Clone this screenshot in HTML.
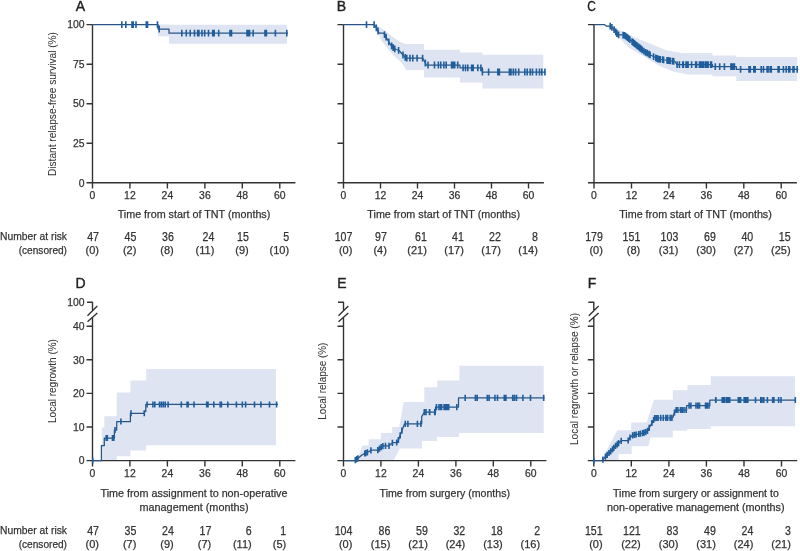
<!DOCTYPE html>
<html><head><meta charset="utf-8"><style>
html,body{margin:0;padding:0;background:#fff;width:800px;height:551px;overflow:hidden;position:relative}
</style></head><body>
<svg width="800" height="551" viewBox="0 0 800 551" style="position:absolute;left:0;top:0;will-change:transform">
<g font-family='"Liberation Sans", sans-serif' stroke-linejoin="round">
<path d="M158.0,24.5 L169.0,24.5 L169.0,24.8 L287.0,24.8 L287.0,43.8 L169.0,43.8 L169.0,36.3 L158.0,36.3Z" fill="#dee4f1" stroke="none"/>
<path d="M374.1,24.6 L378.0,26.0 L384.0,30.0 L393.0,37.0 L400.0,42.0 L405.7,44.1 L424.0,44.1 L424.0,49.8 L460.0,49.8 L460.0,52.4 L482.4,52.4 L482.4,54.7 L543.3,54.7 L543.3,88.6 L482.4,88.6 L482.4,82.4 L460.0,82.4 L460.0,77.6 L424.0,77.6 L424.0,70.0 L406.0,70.0 L402.0,63.0 L394.0,56.0 L388.0,49.0 L381.0,40.0 L378.0,33.0 L374.1,24.6Z" fill="#dee4f1" stroke="none"/>
<path d="M604.6,24.6 L610.0,25.8 L618.0,29.2 L621.0,30.4 L636.3,38.1 L651.7,44.3 L667.1,50.5 L676.4,52.0 L682.5,53.1 L712.4,53.1 L712.4,55.5 L736.3,55.5 L736.3,57.0 L797.2,57.0 L797.2,80.9 L736.3,80.9 L736.3,76.3 L712.4,76.3 L712.4,74.7 L688.7,74.4 L674.8,72.1 L659.4,65.9 L644.0,56.6 L628.6,47.4 L618.0,36.6 L612.0,30.0 L604.6,24.6Z" fill="#dee4f1" stroke="none"/>
<path d="M101.8,460.6 L101.8,427.6 L104.3,427.6 L104.3,416.2 L116.7,416.2 L116.7,392.4 L130.4,392.4 L130.4,380.6 L146.2,380.6 L146.2,369.0 L276.0,369.0 L276.0,445.3 L146.2,445.3 L146.2,450.5 L130.4,450.5 L130.4,456.2 L116.7,456.2 L116.7,460.6 L101.8,460.6Z" fill="#dee4f1" stroke="none"/>
<path d="M355.0,460.6 L358.1,456.7 L362.5,445.4 L368.6,445.4 L368.6,439.2 L380.9,439.2 L380.9,433.1 L392.2,433.1 L392.2,427.0 L399.2,427.0 L403.6,401.9 L424.3,401.9 L424.3,387.2 L437.2,387.2 L437.2,380.4 L459.4,380.4 L459.4,365.8 L543.7,365.8 L543.7,433.0 L459.0,433.0 L459.0,437.0 L437.0,437.0 L437.0,441.0 L422.0,441.0 L422.0,448.5 L400.0,448.5 L393.5,460.6 L355.0,460.6Z" fill="#dee4f1" stroke="none"/>
<path d="M601.9,460.6 L605.3,452.8 L617.4,430.3 L631.2,430.3 L631.2,422.6 L646.7,422.6 L654.0,399.7 L672.8,399.7 L672.8,390.2 L687.4,390.2 L687.4,385.0 L710.7,385.0 L710.7,376.3 L795.0,376.3 L795.0,426.3 L710.7,426.3 L710.7,429.0 L687.4,429.0 L687.4,430.7 L672.8,430.7 L672.8,437.6 L650.5,437.6 L648.4,446.2 L631.7,446.2 L631.7,454.1 L618.6,454.1 L618.6,460.6 L601.9,460.6Z" fill="#dee4f1" stroke="none"/>
<path d="M92.5,183.45000000000002V24.6M86.5,182.8H92.5M86.5,143.2H92.5M86.5,103.7H92.5M86.5,64.2H92.5M86.5,24.6H92.5M86.5,182.8H295.4M92.5,182.8V188.60000000000002M129.9,182.8V188.60000000000002M167.4,182.8V188.60000000000002M204.9,182.8V188.60000000000002M242.3,182.8V188.60000000000002M279.8,182.8V188.60000000000002" stroke="#333" stroke-width="1.4" fill="none"/>
<text x="84.5" y="186.5" font-size="10.4" text-anchor="end" fill="#333" stroke="#333" stroke-width="0.25" font-weight="normal">0</text>
<text x="84.5" y="146.9" font-size="10.4" text-anchor="end" fill="#333" stroke="#333" stroke-width="0.25" font-weight="normal">25</text>
<text x="84.5" y="107.4" font-size="10.4" text-anchor="end" fill="#333" stroke="#333" stroke-width="0.25" font-weight="normal">50</text>
<text x="84.5" y="67.9" font-size="10.4" text-anchor="end" fill="#333" stroke="#333" stroke-width="0.25" font-weight="normal">75</text>
<text x="84.5" y="28.3" font-size="10.4" text-anchor="end" fill="#333" stroke="#333" stroke-width="0.25" font-weight="normal">100</text>
<text x="92.5" y="198.9" font-size="10.4" text-anchor="middle" fill="#333" stroke="#333" stroke-width="0.25" font-weight="normal">0</text>
<text x="129.9" y="198.9" font-size="10.4" text-anchor="middle" fill="#333" stroke="#333" stroke-width="0.25" font-weight="normal">12</text>
<text x="167.4" y="198.9" font-size="10.4" text-anchor="middle" fill="#333" stroke="#333" stroke-width="0.25" font-weight="normal">24</text>
<text x="204.9" y="198.9" font-size="10.4" text-anchor="middle" fill="#333" stroke="#333" stroke-width="0.25" font-weight="normal">36</text>
<text x="242.3" y="198.9" font-size="10.4" text-anchor="middle" fill="#333" stroke="#333" stroke-width="0.25" font-weight="normal">48</text>
<text x="279.8" y="198.9" font-size="10.4" text-anchor="middle" fill="#333" stroke="#333" stroke-width="0.25" font-weight="normal">60</text>
<path d="M343.5,183.45000000000002V24.6M337.5,182.8H343.5M337.5,143.2H343.5M337.5,103.7H343.5M337.5,64.2H343.5M337.5,24.6H343.5M337.5,182.8H543.9M343.5,182.8V188.60000000000002M380.5,182.8V188.60000000000002M417.5,182.8V188.60000000000002M454.5,182.8V188.60000000000002M491.5,182.8V188.60000000000002M528.5,182.8V188.60000000000002" stroke="#333" stroke-width="1.4" fill="none"/>
<text x="343.5" y="198.9" font-size="10.4" text-anchor="middle" fill="#333" stroke="#333" stroke-width="0.25" font-weight="normal">0</text>
<text x="380.5" y="198.9" font-size="10.4" text-anchor="middle" fill="#333" stroke="#333" stroke-width="0.25" font-weight="normal">12</text>
<text x="417.5" y="198.9" font-size="10.4" text-anchor="middle" fill="#333" stroke="#333" stroke-width="0.25" font-weight="normal">24</text>
<text x="454.5" y="198.9" font-size="10.4" text-anchor="middle" fill="#333" stroke="#333" stroke-width="0.25" font-weight="normal">36</text>
<text x="491.5" y="198.9" font-size="10.4" text-anchor="middle" fill="#333" stroke="#333" stroke-width="0.25" font-weight="normal">48</text>
<text x="528.5" y="198.9" font-size="10.4" text-anchor="middle" fill="#333" stroke="#333" stroke-width="0.25" font-weight="normal">60</text>
<path d="M594.0,183.45000000000002V24.6M588.0,182.8H594.0M588.0,143.2H594.0M588.0,103.7H594.0M588.0,64.2H594.0M588.0,24.6H594.0M588.0,182.8H796.9M594.0,182.8V188.60000000000002M631.5,182.8V188.60000000000002M668.9,182.8V188.60000000000002M706.4,182.8V188.60000000000002M743.8,182.8V188.60000000000002M781.2,182.8V188.60000000000002" stroke="#333" stroke-width="1.4" fill="none"/>
<text x="594.0" y="198.9" font-size="10.4" text-anchor="middle" fill="#333" stroke="#333" stroke-width="0.25" font-weight="normal">0</text>
<text x="631.5" y="198.9" font-size="10.4" text-anchor="middle" fill="#333" stroke="#333" stroke-width="0.25" font-weight="normal">12</text>
<text x="668.9" y="198.9" font-size="10.4" text-anchor="middle" fill="#333" stroke="#333" stroke-width="0.25" font-weight="normal">24</text>
<text x="706.4" y="198.9" font-size="10.4" text-anchor="middle" fill="#333" stroke="#333" stroke-width="0.25" font-weight="normal">36</text>
<text x="743.8" y="198.9" font-size="10.4" text-anchor="middle" fill="#333" stroke="#333" stroke-width="0.25" font-weight="normal">48</text>
<text x="781.2" y="198.9" font-size="10.4" text-anchor="middle" fill="#333" stroke="#333" stroke-width="0.25" font-weight="normal">60</text>
<path d="M92.5,461.25V317.8M87.0,302.2H92.5V310M87.5,315.7L97.3,306.1M87.5,321.7L97.3,312.9M86.5,460.6H92.5M86.5,427.0H92.5M86.5,393.4H92.5M86.5,359.8H92.5M86.5,326.2H92.5M86.5,460.6H295.4M92.5,460.6V466.40000000000003M129.9,460.6V466.40000000000003M167.4,460.6V466.40000000000003M204.9,460.6V466.40000000000003M242.3,460.6V466.40000000000003M279.8,460.6V466.40000000000003" stroke="#333" stroke-width="1.4" fill="none"/>
<text x="84.5" y="464.3" font-size="10.4" text-anchor="end" fill="#333" stroke="#333" stroke-width="0.25" font-weight="normal">0</text>
<text x="84.5" y="430.7" font-size="10.4" text-anchor="end" fill="#333" stroke="#333" stroke-width="0.25" font-weight="normal">10</text>
<text x="84.5" y="397.1" font-size="10.4" text-anchor="end" fill="#333" stroke="#333" stroke-width="0.25" font-weight="normal">20</text>
<text x="84.5" y="363.5" font-size="10.4" text-anchor="end" fill="#333" stroke="#333" stroke-width="0.25" font-weight="normal">30</text>
<text x="84.5" y="329.9" font-size="10.4" text-anchor="end" fill="#333" stroke="#333" stroke-width="0.25" font-weight="normal">40</text>
<text x="84.5" y="305.9" font-size="10.4" text-anchor="end" fill="#333" stroke="#333" stroke-width="0.25" font-weight="normal">100</text>
<text x="92.5" y="476.9" font-size="10.4" text-anchor="middle" fill="#333" stroke="#333" stroke-width="0.25" font-weight="normal">0</text>
<text x="129.9" y="476.9" font-size="10.4" text-anchor="middle" fill="#333" stroke="#333" stroke-width="0.25" font-weight="normal">12</text>
<text x="167.4" y="476.9" font-size="10.4" text-anchor="middle" fill="#333" stroke="#333" stroke-width="0.25" font-weight="normal">24</text>
<text x="204.9" y="476.9" font-size="10.4" text-anchor="middle" fill="#333" stroke="#333" stroke-width="0.25" font-weight="normal">36</text>
<text x="242.3" y="476.9" font-size="10.4" text-anchor="middle" fill="#333" stroke="#333" stroke-width="0.25" font-weight="normal">48</text>
<text x="279.8" y="476.9" font-size="10.4" text-anchor="middle" fill="#333" stroke="#333" stroke-width="0.25" font-weight="normal">60</text>
<path d="M343.5,461.25V317.8M338.0,302.2H343.5V310M338.5,315.7L348.3,306.1M338.5,321.7L348.3,312.9M337.5,460.6H343.5M337.5,427.0H343.5M337.5,393.4H343.5M337.5,359.8H343.5M337.5,326.2H343.5M337.5,460.6H546.4M343.5,460.6V466.40000000000003M380.9,460.6V466.40000000000003M418.4,460.6V466.40000000000003M455.9,460.6V466.40000000000003M493.3,460.6V466.40000000000003M530.8,460.6V466.40000000000003" stroke="#333" stroke-width="1.4" fill="none"/>
<text x="343.5" y="476.9" font-size="10.4" text-anchor="middle" fill="#333" stroke="#333" stroke-width="0.25" font-weight="normal">0</text>
<text x="380.9" y="476.9" font-size="10.4" text-anchor="middle" fill="#333" stroke="#333" stroke-width="0.25" font-weight="normal">12</text>
<text x="418.4" y="476.9" font-size="10.4" text-anchor="middle" fill="#333" stroke="#333" stroke-width="0.25" font-weight="normal">24</text>
<text x="455.9" y="476.9" font-size="10.4" text-anchor="middle" fill="#333" stroke="#333" stroke-width="0.25" font-weight="normal">36</text>
<text x="493.3" y="476.9" font-size="10.4" text-anchor="middle" fill="#333" stroke="#333" stroke-width="0.25" font-weight="normal">48</text>
<text x="530.8" y="476.9" font-size="10.4" text-anchor="middle" fill="#333" stroke="#333" stroke-width="0.25" font-weight="normal">60</text>
<path d="M593.8,461.25V317.8M588.3,302.2H593.8V310M588.8,315.7L598.5999999999999,306.1M588.8,321.7L598.5999999999999,312.9M587.8,460.6H593.8M587.8,427.0H593.8M587.8,393.4H593.8M587.8,359.8H593.8M587.8,326.2H593.8M587.8,460.6H797.2M593.8,460.6V466.40000000000003M631.3,460.6V466.40000000000003M668.9,460.6V466.40000000000003M706.4,460.6V466.40000000000003M744.0,460.6V466.40000000000003M781.5,460.6V466.40000000000003" stroke="#333" stroke-width="1.4" fill="none"/>
<text x="593.8" y="476.9" font-size="10.4" text-anchor="middle" fill="#333" stroke="#333" stroke-width="0.25" font-weight="normal">0</text>
<text x="631.3" y="476.9" font-size="10.4" text-anchor="middle" fill="#333" stroke="#333" stroke-width="0.25" font-weight="normal">12</text>
<text x="668.9" y="476.9" font-size="10.4" text-anchor="middle" fill="#333" stroke="#333" stroke-width="0.25" font-weight="normal">24</text>
<text x="706.4" y="476.9" font-size="10.4" text-anchor="middle" fill="#333" stroke="#333" stroke-width="0.25" font-weight="normal">36</text>
<text x="744.0" y="476.9" font-size="10.4" text-anchor="middle" fill="#333" stroke="#333" stroke-width="0.25" font-weight="normal">48</text>
<text x="781.5" y="476.9" font-size="10.4" text-anchor="middle" fill="#333" stroke="#333" stroke-width="0.25" font-weight="normal">60</text>
<path d="M92.5,24.7 L158.0,24.7 L158.0,29.0 L169.0,29.0 L169.0,33.2 L288.0,33.2" stroke="#285584" stroke-width="1.25" fill="none"/>
<path d="M121.8,21.3V28.1M125.8,21.3V28.1M132.0,21.3V28.1M133.2,21.3V28.1M136.0,21.3V28.1M146.3,21.3V28.1M147.5,21.3V28.1M157.5,21.3V28.1M159.2,25.6V32.4M181.8,29.8V36.6M186.3,29.8V36.6M190.2,29.8V36.6M194.5,29.8V36.6M197.7,29.8V36.6M198.9,29.8V36.6M202.0,29.8V36.6M204.7,29.8V36.6M208.5,29.8V36.6M212.7,29.8V36.6M214.2,29.8V36.6M218.7,29.8V36.6M230.0,29.8V36.6M231.5,29.8V36.6M247.0,29.8V36.6M248.3,29.8V36.6M249.6,29.8V36.6M253.2,29.8V36.6M265.0,29.8V36.6M266.4,29.8V36.6M275.4,29.8V36.6M286.8,29.8V36.6" stroke="#1f5d9c" stroke-width="1.6" fill="none"/>
<path d="M343.5,24.6 L374.5,24.6 L377.0,29.0 L379.0,33.0 L383.5,33.0 L386.0,37.0 L390.0,44.0 L394.0,48.5 L399.0,50.5 L403.0,55.0 L406.0,58.1 L422.6,58.1 L424.5,61.5 L426.4,65.0 L460.0,65.0 L460.0,67.8 L482.4,67.8 L482.4,72.0 L545.7,72.0" stroke="#285584" stroke-width="1.25" fill="none"/>
<path d="M366.5,21.2V28.0M374.1,21.2V28.0M376.3,24.4V31.2M378.0,27.6V34.4M384.5,31.2V38.0M386.1,33.8V40.6M388.8,38.5V45.3M391.6,42.4V49.2M393.2,44.2V51.0M394.8,45.4V52.2M398.6,46.9V53.7M403.0,51.6V58.4M405.2,53.9V60.7M406.8,54.7V61.5M410.0,54.7V61.5M412.8,54.7V61.5M417.1,54.7V61.5M422.6,54.7V61.5M425.3,59.6V66.4M428.0,61.6V68.4M434.5,61.6V68.4M438.4,61.6V68.4M440.8,61.6V68.4M443.9,61.6V68.4M446.2,61.6V68.4M451.6,61.6V68.4M453.1,61.6V68.4M454.7,61.6V68.4M457.7,61.6V68.4M463.1,64.4V71.2M465.5,64.4V71.2M467.8,64.4V71.2M471.6,64.4V71.2M473.2,64.4V71.2M477.8,64.4V71.2M480.9,64.4V71.2M482.4,68.6V75.4M488.6,68.6V75.4M497.8,68.6V75.4M499.4,68.6V75.4M509.4,68.6V75.4M511.0,68.6V75.4M513.3,68.6V75.4M515.6,68.6V75.4M518.7,68.6V75.4M524.8,68.6V75.4M527.2,68.6V75.4M530.2,68.6V75.4M532.5,68.6V75.4M536.4,68.6V75.4M539.5,68.6V75.4M541.8,68.6V75.4M544.9,68.6V75.4" stroke="#1f5d9c" stroke-width="1.6" fill="none"/>
<path d="M594.0,24.6 L604.6,24.6 L606.2,26.1 L610.2,26.1 L613.0,28.1 L618.0,34.9 L622.0,34.9 L625.0,35.5 L635.0,44.0 L645.0,52.0 L658.0,59.0 L675.0,61.5 L677.0,64.7 L712.5,64.7 L712.5,66.6 L736.3,66.6 L736.3,69.3 L798.3,69.3" stroke="#285584" stroke-width="1.25" fill="none"/>
<path d="M610.2,22.7V29.5M611.9,23.9V30.7M614.1,26.2V33.0M615.8,28.5V35.3M616.9,30.1V36.9M618.6,31.5V38.3M623.1,31.7V38.5M624.2,31.9V38.7M625.4,32.4V39.2M626.5,33.4V40.2M627.6,34.3V41.1M628.7,35.3V42.1M629.9,36.2V43.0M632.1,38.2V45.0M633.2,39.1V45.9M634.4,40.1V46.9M635.5,41.0V47.8M636.6,41.9V48.7M637.7,42.8V49.6M638.9,43.7V50.5M640.0,44.6V51.4M641.1,45.5V52.3M642.2,46.4V53.2M643.9,47.7V54.5M645.6,48.9V55.7M647.3,49.8V56.6M649.0,50.8V57.6M650.1,51.4V58.2M653.5,53.2V60.0M655.7,54.4V61.2M656.9,55.0V61.8M658.0,55.6V62.4M659.1,55.8V62.6M660.2,55.9V62.7M662.5,56.3V63.1M663.6,56.4V63.2M667.0,56.9V63.7M668.1,57.1V63.9M669.2,57.3V64.1M670.4,57.4V64.2M672.6,57.8V64.6M673.7,57.9V64.7M677.1,61.3V68.1M679.4,61.3V68.1M682.7,61.3V68.1M679.4,61.3V68.1M683.4,61.3V68.1M686.0,61.3V68.1M686.9,61.3V68.1M688.1,61.3V68.1M691.6,61.3V68.1M695.6,61.3V68.1M696.6,61.3V68.1M699.4,61.3V68.1M700.2,61.3V68.1M701.3,61.3V68.1M702.5,61.3V68.1M703.7,61.3V68.1M705.6,61.3V68.1M706.9,61.3V68.1M708.1,61.3V68.1M710.6,61.3V68.1M711.5,61.3V68.1M715.3,63.2V70.0M719.7,63.2V70.0M724.4,63.2V70.0M730.9,63.2V70.0M731.9,63.2V70.0M733.1,63.2V70.0M734.4,63.2V70.0M740.6,65.9V72.7M749.0,65.9V72.7M750.3,65.9V72.7M753.8,65.9V72.7M755.2,65.9V72.7M761.2,65.9V72.7M763.4,65.9V72.7M767.1,65.9V72.7M768.1,65.9V72.7M770.2,65.9V72.7M771.3,65.9V72.7M778.1,65.9V72.7M779.1,65.9V72.7M783.4,65.9V72.7M786.2,65.9V72.7M788.7,65.9V72.7M789.8,65.9V72.7M793.0,65.9V72.7M794.0,65.9V72.7M797.2,65.9V72.7" stroke="#1f5d9c" stroke-width="1.6" fill="none"/>
<path d="M92.5,460.6 L101.4,460.6 L101.4,445.7 L104.3,445.7 L104.3,438.1 L114.4,438.1 L114.4,430.1 L116.7,430.1 L116.7,421.5 L130.4,421.5 L130.4,413.3 L144.3,413.3 L144.3,411.4 L145.8,411.4 L145.8,404.4 L277.9,404.4" stroke="#285584" stroke-width="1.25" fill="none"/>
<path d="M92.7,457.6V463.6M106.2,435.1V441.1M107.3,435.1V441.1M112.5,435.1V441.1M113.8,435.1V441.1M115.0,427.1V433.1M120.9,418.5V424.5M131.0,410.3V416.3M144.3,410.3V416.3M147.1,401.4V407.4M152.9,401.4V407.4M154.8,401.4V407.4M159.5,401.4V407.4M161.4,401.4V407.4M163.3,401.4V407.4M165.2,401.4V407.4M168.1,401.4V407.4M181.3,401.4V407.4M187.1,401.4V407.4M188.1,401.4V407.4M194.0,401.4V407.4M206.7,401.4V407.4M208.0,401.4V407.4M213.8,401.4V407.4M220.2,401.4V407.4M221.4,401.4V407.4M227.8,401.4V407.4M236.4,401.4V407.4M242.3,401.4V407.4M245.6,401.4V407.4M254.5,401.4V407.4M260.9,401.4V407.4M269.5,401.4V407.4M276.6,401.4V407.4" stroke="#1f5d9c" stroke-width="1.6" fill="none"/>
<path d="M343.5,460.6 L354.6,460.6 L358.1,458.3 L362.5,454.6 L366.9,452.6 L371.2,450.2 L378.2,450.2 L380.0,448.0 L383.5,445.8 L389.0,445.8 L392.7,442.5 L397.5,442.5 L401.0,433.1 L404.5,423.8 L421.7,423.8 L421.7,416.6 L424.3,412.2 L435.5,412.2 L435.5,407.1 L458.5,407.1 L458.5,397.8 L544.5,397.8" stroke="#285584" stroke-width="1.25" fill="none"/>
<path d="M355.3,457.0V463.2M356.7,456.1V462.3M357.9,455.3V461.5M364.8,450.4V456.6M365.7,450.1V456.3M367.4,449.2V455.4M370.9,447.3V453.5M377.8,447.1V453.3M379.5,445.5V451.7M381.2,444.1V450.3M382.9,443.1V449.3M385.5,442.7V448.9M389.0,442.7V448.9M392.4,439.7V445.9M396.7,439.4V445.6M398.4,436.9V443.1M400.2,432.2V438.4M401.9,427.6V433.8M405.3,420.7V426.9M407.9,420.7V426.9M417.4,420.7V426.9M420.9,420.7V426.9M424.3,409.1V415.3M426.0,409.1V415.3M429.5,409.1V415.3M434.7,409.1V415.3M436.4,404.0V410.2M439.0,404.0V410.2M441.6,404.0V410.2M444.1,404.0V410.2M429.7,409.1V415.3M435.2,409.1V415.3M436.5,404.0V410.2M439.1,404.0V410.2M440.8,404.0V410.2M444.9,404.0V410.2M446.2,404.0V410.2M447.4,404.0V410.2M448.7,404.0V410.2M456.8,404.0V410.2M465.2,394.7V400.9M475.4,394.7V400.9M477.2,394.7V400.9M487.3,394.7V400.9M489.1,394.7V400.9M494.9,394.7V400.9M497.5,394.7V400.9M504.3,394.7V400.9M505.9,394.7V400.9M512.7,394.7V400.9M514.5,394.7V400.9M516.5,394.7V400.9M522.9,394.7V400.9M530.5,394.7V400.9M543.7,394.7V400.9" stroke="#1f5d9c" stroke-width="1.6" fill="none"/>
<path d="M593.8,460.6 L602.0,460.6 L606.0,456.0 L611.0,451.0 L616.0,445.5 L621.5,440.5 L628.2,440.5 L630.0,437.5 L632.6,435.3 L642.7,433.1 L645.7,432.2 L647.5,430.9 L654.7,418.0 L672.8,417.8 L675.3,410.0 L686.6,410.0 L686.6,405.7 L709.8,405.7 L709.8,400.0 L795.7,400.0" stroke="#285584" stroke-width="1.25" fill="none"/>
<path d="M593.8,457.5V463.7M602.9,456.5V462.7M605.5,453.5V459.7M607.2,451.7V457.9M609.0,449.9V456.1M610.7,448.2V454.4M612.5,446.2V452.5M613.8,444.8V451.0M615.6,442.8V449.0M617.3,441.2V447.4M618.6,440.0V446.2M621.2,437.7V443.9M628.2,437.4V443.6M630.0,434.4V440.6M632.6,432.2V438.4M634.4,431.8V438.0M636.1,431.4V437.6M638.7,430.9V437.1M640.5,430.5V436.7M642.7,430.0V436.2M644.0,429.6V435.8M645.7,429.1V435.3M647.5,427.8V434.0M649.2,424.8V431.0M651.9,419.9V426.1M653.6,416.9V423.1M654.7,415.0V421.2M656.4,414.9V421.1M658.1,414.9V421.1M660.7,414.8V421.0M663.3,414.8V421.0M665.9,414.8V421.0M667.6,414.8V421.0M670.2,414.7V420.9M671.9,414.7V420.9M674.5,409.4V415.6M676.2,406.9V413.1M677.9,406.9V413.1M680.5,406.9V413.1M682.2,406.9V413.1M684.0,406.9V413.1M686.2,406.9V413.1M689.1,402.6V408.8M690.9,402.6V408.8M696.0,402.6V408.8M697.8,402.6V408.8M699.5,402.6V408.8M707.2,402.6V408.8M709.0,402.6V408.8M715.9,396.9V403.1M722.8,396.9V403.1M724.5,396.9V403.1M727.9,396.9V403.1M729.7,396.9V403.1M738.3,396.9V403.1M705.5,402.6V408.8M707.0,402.6V408.8M715.7,396.9V403.1M722.2,396.9V403.1M723.4,396.9V403.1M726.4,396.9V403.1M729.3,396.9V403.1M738.3,396.9V403.1M739.4,396.9V403.1M740.6,396.9V403.1M744.2,396.9V403.1M745.4,396.9V403.1M746.6,396.9V403.1M747.8,396.9V403.1M755.5,396.9V403.1M760.8,396.9V403.1M762.0,396.9V403.1M763.8,396.9V403.1M767.4,396.9V403.1M772.7,396.9V403.1M773.9,396.9V403.1M778.6,396.9V403.1M781.0,396.9V403.1M795.3,396.9V403.1" stroke="#1f5d9c" stroke-width="1.6" fill="none"/>
<text x="80.35" y="10.6" font-size="14" text-anchor="middle" fill="#222" stroke="#222" stroke-width="0.4">A</text>
<text x="341.4" y="10.6" font-size="14" text-anchor="middle" fill="#222" stroke="#222" stroke-width="0.4">B</text>
<text x="591.6" y="10.6" font-size="14" text-anchor="middle" fill="#222" stroke="#222" stroke-width="0.4" textLength="8.6" lengthAdjust="spacingAndGlyphs">C</text>
<text x="80.6" y="287.75" font-size="14" text-anchor="middle" fill="#222" stroke="#222" stroke-width="0.4">D</text>
<text x="342" y="287.75" font-size="14" text-anchor="middle" fill="#222" stroke="#222" stroke-width="0.4">E</text>
<text x="592" y="287.75" font-size="14" text-anchor="middle" fill="#222" stroke="#222" stroke-width="0.4">F</text>
<text x="194.0" y="218.1" font-size="11" text-anchor="middle" fill="#333" stroke="#333" stroke-width="0.25" font-weight="normal" textLength="152.7" lengthAdjust="spacingAndGlyphs">Time from start of TNT (months)</text>
<text x="443.7" y="218.1" font-size="11" text-anchor="middle" fill="#333" stroke="#333" stroke-width="0.25" font-weight="normal" textLength="152.7" lengthAdjust="spacingAndGlyphs">Time from start of TNT (months)</text>
<text x="695.5" y="218.1" font-size="11" text-anchor="middle" fill="#333" stroke="#333" stroke-width="0.25" font-weight="normal" textLength="152.7" lengthAdjust="spacingAndGlyphs">Time from start of TNT (months)</text>
<text x="194.0" y="497.2" font-size="11" text-anchor="middle" fill="#333" stroke="#333" stroke-width="0.25" font-weight="normal" textLength="187.0" lengthAdjust="spacingAndGlyphs">Time from assignment to non-operative</text>
<text x="194.0" y="510.5" font-size="11" text-anchor="middle" fill="#333" stroke="#333" stroke-width="0.25" font-weight="normal" textLength="109.0" lengthAdjust="spacingAndGlyphs">management (months)</text>
<text x="444.8" y="497.2" font-size="11" text-anchor="middle" fill="#333" stroke="#333" stroke-width="0.25" font-weight="normal" textLength="130.5" lengthAdjust="spacingAndGlyphs">Time from surgery (months)</text>
<text x="695.9" y="497.2" font-size="11" text-anchor="middle" fill="#333" stroke="#333" stroke-width="0.25" font-weight="normal" textLength="165.7" lengthAdjust="spacingAndGlyphs">Time from surgery or assignment to</text>
<text x="695.8" y="510.5" font-size="11" text-anchor="middle" fill="#333" stroke="#333" stroke-width="0.25" font-weight="normal" textLength="177.5" lengthAdjust="spacingAndGlyphs">non-operative management (months)</text>
<text x="0" y="0" font-size="11" text-anchor="middle" fill="#333" stroke="#333" stroke-width="0.05" textLength="144" lengthAdjust="spacingAndGlyphs" transform="translate(56,104) rotate(-90)">Distant relapse-free survival (%)</text>
<text x="0" y="0" font-size="11" text-anchor="middle" fill="#333" stroke="#333" stroke-width="0.05" textLength="83.9" lengthAdjust="spacingAndGlyphs" transform="translate(56,381) rotate(-90)">Local regrowth (%)</text>
<text x="0" y="0" font-size="11" text-anchor="middle" fill="#333" stroke="#333" stroke-width="0.05" textLength="77.2" lengthAdjust="spacingAndGlyphs" transform="translate(326,381.2) rotate(-90)">Local relapse (%)</text>
<text x="0" y="0" font-size="11" text-anchor="middle" fill="#333" stroke="#333" stroke-width="0.05" textLength="132" lengthAdjust="spacingAndGlyphs" transform="translate(577.5,379) rotate(-90)">Local regrowth or relapse (%)</text>
<text x="67.0" y="239.7" font-size="11.5" text-anchor="end" fill="#333" stroke="#333" stroke-width="0.25" font-weight="normal" textLength="67.0" lengthAdjust="spacingAndGlyphs">Number at risk</text>
<text x="67.0" y="253.7" font-size="11" text-anchor="end" fill="#333" stroke="#333" stroke-width="0.25" font-weight="normal" textLength="48.3" lengthAdjust="spacingAndGlyphs">(censored)</text>
<text x="67.0" y="534.0" font-size="11.5" text-anchor="end" fill="#333" stroke="#333" stroke-width="0.25" font-weight="normal" textLength="67.0" lengthAdjust="spacingAndGlyphs">Number at risk</text>
<text x="67.0" y="547.6" font-size="11" text-anchor="end" fill="#333" stroke="#333" stroke-width="0.25" font-weight="normal" textLength="48.3" lengthAdjust="spacingAndGlyphs">(censored)</text>
<text x="99.0" y="240.8" font-size="12" text-anchor="end" fill="#333" stroke="#333" stroke-width="0.25" font-weight="normal" textLength="11.8" lengthAdjust="spacingAndGlyphs">47</text>
<text x="99.0" y="253.7" font-size="11" text-anchor="end" fill="#333" stroke="#333" stroke-width="0.25" font-weight="normal">(0)</text>
<text x="136.4" y="240.8" font-size="12" text-anchor="end" fill="#333" stroke="#333" stroke-width="0.25" font-weight="normal" textLength="11.8" lengthAdjust="spacingAndGlyphs">45</text>
<text x="136.4" y="253.7" font-size="11" text-anchor="end" fill="#333" stroke="#333" stroke-width="0.25" font-weight="normal">(2)</text>
<text x="173.8" y="240.8" font-size="12" text-anchor="end" fill="#333" stroke="#333" stroke-width="0.25" font-weight="normal" textLength="11.8" lengthAdjust="spacingAndGlyphs">36</text>
<text x="173.8" y="253.7" font-size="11" text-anchor="end" fill="#333" stroke="#333" stroke-width="0.25" font-weight="normal">(8)</text>
<text x="214.3" y="240.8" font-size="12" text-anchor="end" fill="#333" stroke="#333" stroke-width="0.25" font-weight="normal" textLength="11.8" lengthAdjust="spacingAndGlyphs">24</text>
<text x="214.3" y="253.7" font-size="11" text-anchor="end" fill="#333" stroke="#333" stroke-width="0.25" font-weight="normal">(11)</text>
<text x="248.8" y="240.8" font-size="12" text-anchor="end" fill="#333" stroke="#333" stroke-width="0.25" font-weight="normal" textLength="11.8" lengthAdjust="spacingAndGlyphs">15</text>
<text x="248.8" y="253.7" font-size="11" text-anchor="end" fill="#333" stroke="#333" stroke-width="0.25" font-weight="normal">(9)</text>
<text x="289.1" y="240.8" font-size="12" text-anchor="end" fill="#333" stroke="#333" stroke-width="0.25" font-weight="normal" textLength="5.9" lengthAdjust="spacingAndGlyphs">5</text>
<text x="289.1" y="253.7" font-size="11" text-anchor="end" fill="#333" stroke="#333" stroke-width="0.25" font-weight="normal">(10)</text>
<text x="352.4" y="240.8" font-size="12" text-anchor="end" fill="#333" stroke="#333" stroke-width="0.25" font-weight="normal" textLength="17.7" lengthAdjust="spacingAndGlyphs">107</text>
<text x="352.4" y="253.7" font-size="11" text-anchor="end" fill="#333" stroke="#333" stroke-width="0.25" font-weight="normal">(0)</text>
<text x="386.9" y="240.8" font-size="12" text-anchor="end" fill="#333" stroke="#333" stroke-width="0.25" font-weight="normal" textLength="11.8" lengthAdjust="spacingAndGlyphs">97</text>
<text x="386.9" y="253.7" font-size="11" text-anchor="end" fill="#333" stroke="#333" stroke-width="0.25" font-weight="normal">(4)</text>
<text x="426.9" y="240.8" font-size="12" text-anchor="end" fill="#333" stroke="#333" stroke-width="0.25" font-weight="normal" textLength="11.8" lengthAdjust="spacingAndGlyphs">61</text>
<text x="426.9" y="253.7" font-size="11" text-anchor="end" fill="#333" stroke="#333" stroke-width="0.25" font-weight="normal">(21)</text>
<text x="463.9" y="240.8" font-size="12" text-anchor="end" fill="#333" stroke="#333" stroke-width="0.25" font-weight="normal" textLength="11.8" lengthAdjust="spacingAndGlyphs">41</text>
<text x="463.9" y="253.7" font-size="11" text-anchor="end" fill="#333" stroke="#333" stroke-width="0.25" font-weight="normal">(17)</text>
<text x="500.9" y="240.8" font-size="12" text-anchor="end" fill="#333" stroke="#333" stroke-width="0.25" font-weight="normal" textLength="11.8" lengthAdjust="spacingAndGlyphs">22</text>
<text x="500.9" y="253.7" font-size="11" text-anchor="end" fill="#333" stroke="#333" stroke-width="0.25" font-weight="normal">(17)</text>
<text x="537.9" y="240.8" font-size="12" text-anchor="end" fill="#333" stroke="#333" stroke-width="0.25" font-weight="normal" textLength="5.9" lengthAdjust="spacingAndGlyphs">8</text>
<text x="537.9" y="253.7" font-size="11" text-anchor="end" fill="#333" stroke="#333" stroke-width="0.25" font-weight="normal">(14)</text>
<text x="602.9" y="240.8" font-size="12" text-anchor="end" fill="#333" stroke="#333" stroke-width="0.25" font-weight="normal" textLength="17.7" lengthAdjust="spacingAndGlyphs">179</text>
<text x="602.9" y="253.7" font-size="11" text-anchor="end" fill="#333" stroke="#333" stroke-width="0.25" font-weight="normal">(0)</text>
<text x="640.3" y="240.8" font-size="12" text-anchor="end" fill="#333" stroke="#333" stroke-width="0.25" font-weight="normal" textLength="17.7" lengthAdjust="spacingAndGlyphs">151</text>
<text x="640.3" y="253.7" font-size="11" text-anchor="end" fill="#333" stroke="#333" stroke-width="0.25" font-weight="normal">(8)</text>
<text x="678.3" y="240.8" font-size="12" text-anchor="end" fill="#333" stroke="#333" stroke-width="0.25" font-weight="normal" textLength="17.7" lengthAdjust="spacingAndGlyphs">103</text>
<text x="678.3" y="253.7" font-size="11" text-anchor="end" fill="#333" stroke="#333" stroke-width="0.25" font-weight="normal">(31)</text>
<text x="715.8" y="240.8" font-size="12" text-anchor="end" fill="#333" stroke="#333" stroke-width="0.25" font-weight="normal" textLength="11.8" lengthAdjust="spacingAndGlyphs">69</text>
<text x="715.8" y="253.7" font-size="11" text-anchor="end" fill="#333" stroke="#333" stroke-width="0.25" font-weight="normal">(30)</text>
<text x="753.2" y="240.8" font-size="12" text-anchor="end" fill="#333" stroke="#333" stroke-width="0.25" font-weight="normal" textLength="11.8" lengthAdjust="spacingAndGlyphs">40</text>
<text x="753.2" y="253.7" font-size="11" text-anchor="end" fill="#333" stroke="#333" stroke-width="0.25" font-weight="normal">(27)</text>
<text x="790.6" y="240.8" font-size="12" text-anchor="end" fill="#333" stroke="#333" stroke-width="0.25" font-weight="normal" textLength="11.8" lengthAdjust="spacingAndGlyphs">15</text>
<text x="790.6" y="253.7" font-size="11" text-anchor="end" fill="#333" stroke="#333" stroke-width="0.25" font-weight="normal">(25)</text>
<text x="99.0" y="535.0" font-size="12" text-anchor="end" fill="#333" stroke="#333" stroke-width="0.25" font-weight="normal" textLength="11.8" lengthAdjust="spacingAndGlyphs">47</text>
<text x="99.0" y="547.6" font-size="11" text-anchor="end" fill="#333" stroke="#333" stroke-width="0.25" font-weight="normal">(0)</text>
<text x="136.4" y="535.0" font-size="12" text-anchor="end" fill="#333" stroke="#333" stroke-width="0.25" font-weight="normal" textLength="11.8" lengthAdjust="spacingAndGlyphs">35</text>
<text x="136.4" y="547.6" font-size="11" text-anchor="end" fill="#333" stroke="#333" stroke-width="0.25" font-weight="normal">(7)</text>
<text x="173.8" y="535.0" font-size="12" text-anchor="end" fill="#333" stroke="#333" stroke-width="0.25" font-weight="normal" textLength="11.8" lengthAdjust="spacingAndGlyphs">24</text>
<text x="173.8" y="547.6" font-size="11" text-anchor="end" fill="#333" stroke="#333" stroke-width="0.25" font-weight="normal">(9)</text>
<text x="211.3" y="535.0" font-size="12" text-anchor="end" fill="#333" stroke="#333" stroke-width="0.25" font-weight="normal" textLength="11.8" lengthAdjust="spacingAndGlyphs">17</text>
<text x="211.3" y="547.6" font-size="11" text-anchor="end" fill="#333" stroke="#333" stroke-width="0.25" font-weight="normal">(7)</text>
<text x="251.7" y="535.0" font-size="12" text-anchor="end" fill="#333" stroke="#333" stroke-width="0.25" font-weight="normal" textLength="5.9" lengthAdjust="spacingAndGlyphs">6</text>
<text x="251.7" y="547.6" font-size="11" text-anchor="end" fill="#333" stroke="#333" stroke-width="0.25" font-weight="normal">(11)</text>
<text x="286.2" y="535.0" font-size="12" text-anchor="end" fill="#333" stroke="#333" stroke-width="0.25" font-weight="normal" textLength="5.9" lengthAdjust="spacingAndGlyphs">1</text>
<text x="286.2" y="547.6" font-size="11" text-anchor="end" fill="#333" stroke="#333" stroke-width="0.25" font-weight="normal">(5)</text>
<text x="352.4" y="535.0" font-size="12" text-anchor="end" fill="#333" stroke="#333" stroke-width="0.25" font-weight="normal" textLength="17.7" lengthAdjust="spacingAndGlyphs">104</text>
<text x="352.4" y="547.6" font-size="11" text-anchor="end" fill="#333" stroke="#333" stroke-width="0.25" font-weight="normal">(0)</text>
<text x="390.3" y="535.0" font-size="12" text-anchor="end" fill="#333" stroke="#333" stroke-width="0.25" font-weight="normal" textLength="11.8" lengthAdjust="spacingAndGlyphs">86</text>
<text x="390.3" y="547.6" font-size="11" text-anchor="end" fill="#333" stroke="#333" stroke-width="0.25" font-weight="normal">(15)</text>
<text x="427.8" y="535.0" font-size="12" text-anchor="end" fill="#333" stroke="#333" stroke-width="0.25" font-weight="normal" textLength="11.8" lengthAdjust="spacingAndGlyphs">59</text>
<text x="427.8" y="547.6" font-size="11" text-anchor="end" fill="#333" stroke="#333" stroke-width="0.25" font-weight="normal">(21)</text>
<text x="465.2" y="535.0" font-size="12" text-anchor="end" fill="#333" stroke="#333" stroke-width="0.25" font-weight="normal" textLength="11.8" lengthAdjust="spacingAndGlyphs">32</text>
<text x="465.2" y="547.6" font-size="11" text-anchor="end" fill="#333" stroke="#333" stroke-width="0.25" font-weight="normal">(24)</text>
<text x="502.7" y="535.0" font-size="12" text-anchor="end" fill="#333" stroke="#333" stroke-width="0.25" font-weight="normal" textLength="11.8" lengthAdjust="spacingAndGlyphs">18</text>
<text x="502.7" y="547.6" font-size="11" text-anchor="end" fill="#333" stroke="#333" stroke-width="0.25" font-weight="normal">(13)</text>
<text x="540.1" y="535.0" font-size="12" text-anchor="end" fill="#333" stroke="#333" stroke-width="0.25" font-weight="normal" textLength="5.9" lengthAdjust="spacingAndGlyphs">2</text>
<text x="540.1" y="547.6" font-size="11" text-anchor="end" fill="#333" stroke="#333" stroke-width="0.25" font-weight="normal">(16)</text>
<text x="602.6" y="535.0" font-size="12" text-anchor="end" fill="#333" stroke="#333" stroke-width="0.25" font-weight="normal" textLength="17.7" lengthAdjust="spacingAndGlyphs">151</text>
<text x="602.6" y="547.6" font-size="11" text-anchor="end" fill="#333" stroke="#333" stroke-width="0.25" font-weight="normal">(0)</text>
<text x="640.7" y="535.0" font-size="12" text-anchor="end" fill="#333" stroke="#333" stroke-width="0.25" font-weight="normal" textLength="17.7" lengthAdjust="spacingAndGlyphs">121</text>
<text x="640.7" y="547.6" font-size="11" text-anchor="end" fill="#333" stroke="#333" stroke-width="0.25" font-weight="normal">(22)</text>
<text x="678.3" y="535.0" font-size="12" text-anchor="end" fill="#333" stroke="#333" stroke-width="0.25" font-weight="normal" textLength="11.8" lengthAdjust="spacingAndGlyphs">83</text>
<text x="678.3" y="547.6" font-size="11" text-anchor="end" fill="#333" stroke="#333" stroke-width="0.25" font-weight="normal">(30)</text>
<text x="715.8" y="535.0" font-size="12" text-anchor="end" fill="#333" stroke="#333" stroke-width="0.25" font-weight="normal" textLength="11.8" lengthAdjust="spacingAndGlyphs">49</text>
<text x="715.8" y="547.6" font-size="11" text-anchor="end" fill="#333" stroke="#333" stroke-width="0.25" font-weight="normal">(31)</text>
<text x="753.4" y="535.0" font-size="12" text-anchor="end" fill="#333" stroke="#333" stroke-width="0.25" font-weight="normal" textLength="11.8" lengthAdjust="spacingAndGlyphs">24</text>
<text x="753.4" y="547.6" font-size="11" text-anchor="end" fill="#333" stroke="#333" stroke-width="0.25" font-weight="normal">(24)</text>
<text x="790.9" y="535.0" font-size="12" text-anchor="end" fill="#333" stroke="#333" stroke-width="0.25" font-weight="normal" textLength="5.9" lengthAdjust="spacingAndGlyphs">3</text>
<text x="790.9" y="547.6" font-size="11" text-anchor="end" fill="#333" stroke="#333" stroke-width="0.25" font-weight="normal">(21)</text>
</g></svg>
</body></html>
